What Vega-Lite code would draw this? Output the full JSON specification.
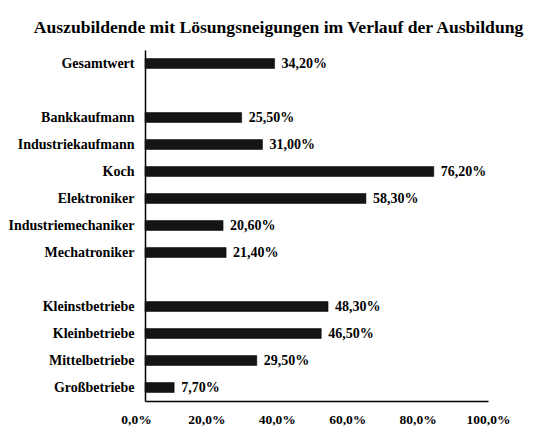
{
  "$schema": "https://vega.github.io/schema/vega-lite/v6.json",
  "autosize": {"type": "none"},
  "width": 343,
  "height": 351,
  "padding": {"left": 145, "top": 50, "right": 72, "bottom": 33},
  "background": "white",
  "config": {
    "locale": {"number": {"decimal": ",", "thousands": ".", "grouping": [3], "currency": ["", " €"]}},
    "font": "'Liberation Serif', 'Times New Roman', serif",
    "view": {"stroke": null}
  },
  "title": {
    "text": "Auszubildende  mit  Lösungsneigungen  im  Verlauf  der  Ausbildung",
    "font": "'Liberation Serif', 'Times New Roman', serif",
    "fontSize": 17.6,
    "fontWeight": "bold",
    "color": "black",
    "anchor": "middle",
    "frame": "group",
    "dx": -38,
    "offset": 11
  },
  "data": {
    "values": [
      {"kategorie": "Gesamtwert", "anteil": 0.342},
      {"kategorie": "Bankkaufmann", "anteil": 0.255},
      {"kategorie": "Industriekaufmann", "anteil": 0.31},
      {"kategorie": "Koch", "anteil": 0.762},
      {"kategorie": "Elektroniker", "anteil": 0.583},
      {"kategorie": "Industriemechaniker", "anteil": 0.206},
      {"kategorie": "Mechatroniker", "anteil": 0.214},
      {"kategorie": "Kleinstbetriebe", "anteil": 0.483},
      {"kategorie": "Kleinbetriebe", "anteil": 0.465},
      {"kategorie": "Mittelbetriebe", "anteil": 0.295},
      {"kategorie": "Großbetriebe", "anteil": 0.077}
    ]
  },
  "encoding": {
    "y": {
      "field": "kategorie",
      "type": "nominal",
      "scale": {
        "domain": ["Gesamtwert", "_a", "Bankkaufmann", "Industriekaufmann", "Koch", "Elektroniker", "Industriemechaniker", "Mechatroniker", "_b", "Kleinstbetriebe", "Kleinbetriebe", "Mittelbetriebe", "Großbetriebe"],
        "paddingInner": 0.63,
        "paddingOuter": 0.315
      },
      "axis": {
        "title": null,
        "ticks": false,
        "domainColor": "black",
        "domainWidth": 1.5,
        "labelExpr": "indexof(datum.label, '_') === 0 ? '' : datum.label",
        "labelFont": "'Liberation Serif', 'Times New Roman', serif",
        "labelFontSize": 14,
        "labelFontWeight": "bold",
        "labelColor": "black",
        "labelPadding": 11
      }
    }
  },
  "layer": [
    {
      "mark": {"type": "bar", "color": "#141414", "stroke": "black", "strokeWidth": 0.5},
      "encoding": {
        "x": {
          "field": "anteil",
          "type": "quantitative",
          "scale": {"domain": [0, 0.905], "nice": false},
          "axis": {"title": null, "labels": false, "ticks": false, "grid": false, "domainColor": "black", "domainWidth": 1.5}
        }
      }
    },
    {
      "mark": {"type": "text", "align": "left", "dx": 7, "font": "'Liberation Serif', 'Times New Roman', serif", "fontSize": 14, "fontWeight": "bold", "color": "black"},
      "encoding": {
        "x": {"field": "anteil", "type": "quantitative", "scale": {"domain": [0, 0.905], "nice": false}, "axis": null},
        "text": {"field": "anteil", "type": "quantitative", "format": ".2%"}
      }
    },
    {
      "data": {"values": [{"wert": 0}, {"wert": 1}]},
      "mark": {"type": "point", "opacity": 0},
      "encoding": {
        "y": {"value": 0},
        "x": {
          "field": "wert",
          "type": "quantitative",
          "scale": {"domain": [0, 1], "range": [-9, 343], "nice": false},
          "axis": {
            "orient": "bottom",
            "title": null,
            "domain": false,
            "ticks": false,
            "grid": false,
            "values": [0, 0.2, 0.4, 0.6, 0.8, 1],
            "format": ".1%",
            "labelFlush": false,
            "labelFont": "'Liberation Serif', 'Times New Roman', serif",
            "labelFontSize": 13.5,
            "labelFontWeight": "bold",
            "labelColor": "black",
            "labelPadding": 11
          }
        }
      }
    }
  ],
  "resolve": {"scale": {"x": "independent"}, "axis": {"x": "independent"}}
}
